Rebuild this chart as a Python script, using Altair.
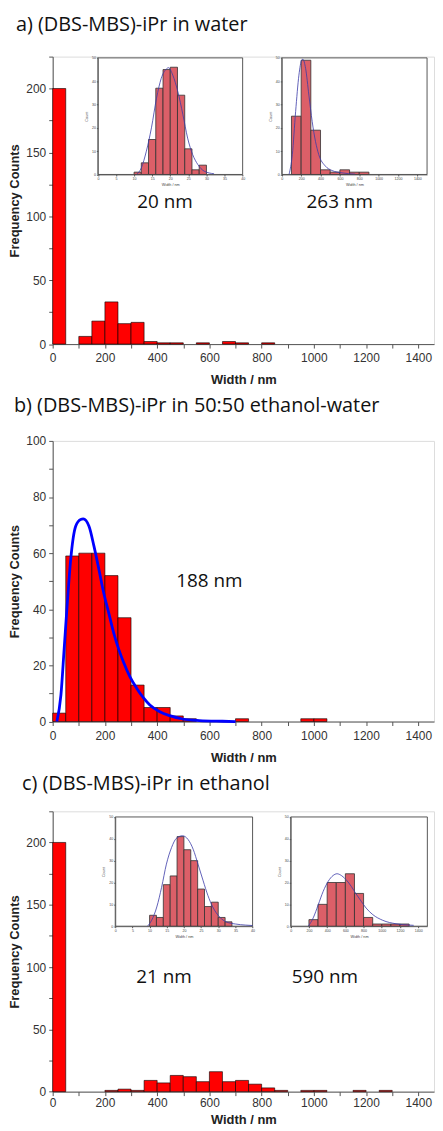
import altair as alt
import pandas as pd

# ---------------- data ----------------
MAIN_BIN = 50
# panel a: main histogram
a_start = [0, 100, 150, 200, 250, 300, 350, 400, 450, 550, 650, 700, 800]
a_count = [200, 6, 18, 33, 16, 17, 2, 1, 1, 1, 2, 1, 1]
# panel a inset 1 (bin 2 nm)
a1_start = [10, 12, 14, 16, 18, 20, 22, 24, 26, 28]
a1_count = [1, 5, 15, 37, 45, 46, 34, 11, 2, 4]
a1_fit_x = [10.7, 12, 13.4, 14.8, 16.2, 17.5, 18.9, 19.5, 20.7, 22.1, 23.5, 24.8, 26.2, 27.6, 29.4, 32.1]
a1_fit_y = [0, 2.8, 10, 20, 32.7, 41.2, 45.2, 45.8, 42.6, 35.5, 25.6, 15.6, 8.5, 4.3, 1.4, 0.3]
# panel a inset 2 (bin 100 nm)
a2_start = [100, 200, 300, 400, 500, 600, 700, 800]
a2_count = [25, 49, 19, 2, 1, 2, 1, 1]
a2_fit_x = [75, 109, 143, 177, 205, 218, 246, 280, 314, 348, 382, 450, 519, 621, 758]
a2_fit_y = [0, 8.5, 27, 42.6, 49, 49.4, 45.5, 34, 22.7, 14.2, 8.5, 3.6, 1.7, 0.7, 0.15]

# panel b
b_start = [0, 50, 100, 150, 200, 250, 300, 350, 400, 450, 500, 700, 950, 1000]
b_count = [3, 59, 60, 60, 52, 37, 13, 5, 5, 2, 1, 1, 1, 1]
b_fit_x = [16, 31.5, 44, 57, 69, 88, 107, 117, 139, 158, 177, 195, 214, 233, 252, 271,
           296, 322, 347, 372, 410, 448, 498, 561, 650, 700]
b_fit_y = [0, 9.4, 26, 43.6, 57.8, 69.6, 72, 72.2, 69.6, 62.5, 54.2, 46, 38.9, 31.8, 26, 21.2,
           15.9, 11.8, 8.5, 5.9, 3.5, 2.1, 0.9, 0.35, 0.1, 0]

# panel c
c_start = [0, 200, 250, 300, 350, 400, 450, 500, 550, 600, 650, 700, 750, 800, 850, 950, 1000, 1150, 1250]
c_count = [200, 1, 2, 1, 9, 7, 13, 12, 8, 16, 8, 9, 6, 3, 1, 1, 1, 1, 1]
c1_start = [10, 12, 14, 16, 18, 20, 22, 24, 26, 28, 30, 32]
c1_count = [5, 4, 19, 23, 41, 35, 30, 17, 9, 11, 4, 2]
c1_fit_x = [9.4, 10.6, 12.1, 13.5, 14.9, 16.4, 17.8, 19.6, 21.2, 22.7, 24.1, 25.6, 27, 28.4, 30.4, 32.3, 35, 38, 40]
c1_fit_y = [0, 2.7, 8.8, 17.8, 28.4, 36, 40.2, 41.4, 39.7, 35.2, 28.4, 20.8, 14, 8.8, 4.2, 2, 1, 0.5, 0.3]
c2_start = [200, 300, 400, 500, 600, 700, 800, 900, 1000, 1100, 1200]
c2_count = [3, 10, 20, 20, 24, 15, 4, 1, 1, 1, 1]
c2_fit_x = [193, 247, 302, 356, 411, 465, 509, 556, 610, 665, 719, 774, 828, 901, 1010, 1156, 1301, 1350]
c2_fit_y = [0, 3.8, 9.8, 15.9, 20.5, 23.2, 24, 23.2, 21.2, 18.2, 14.7, 11.4, 8.3, 5.3, 2.7, 1.1, 0.5, 0.4]

titles = ["a) (DBS-MBS)-iPr in water",
          "b) (DBS-MBS)-iPr in 50:50 ethanol-water",
          "c) (DBS-MBS)-iPr in ethanol"]
# annotation labels: text, x (nm), y (counts) in main-axis units
a_lab = (["20 nm", "263 nm"], [430, 1099], [111, 111])
b_lab = (["188 nm"], [600], [50])
c_lab = (["21 nm", "590 nm"], [426, 1042], [92, 92])

# ---------------- styling ----------------
AXF = "Liberation Sans"
TXF = "Open Sans"
W = 384
XMAX = 1460


def hist_df(start, count, bw):
    return pd.DataFrame({"start": start, "end": [s + bw for s in start], "count": count})


def main_layer(start, count, ymax, ystep, ylab, H, labels, fit=None, lpad=5, tpad=10):
    xs = alt.Scale(domain=[0, XMAX], nice=False, zero=False)
    ys = alt.Scale(domain=[0, ymax], nice=False, zero=False)
    xax = alt.Axis(values=list(range(0, 1401, 100)), format="d",
                   labelExpr="datum.value % 200 == 0 ? datum.label : ''",
                   title="Width / nm", titleFontSize=13, titleFont=AXF, titleFontWeight="bold",
                   titleColor="#222", titlePadding=tpad, labelFont=AXF, labelFontSize=12,
                   labelColor="#333", labelPadding=lpad, tickSize=4, tickColor="#555",
                   domainColor="#555", grid=False, labelFlush=False, labelOverlap=False)
    yax = alt.Axis(values=list(range(0, ymax + 1, ystep)), format="d",
                   labelExpr="datum.value %% %d == 0 ? datum.label : ''" % ylab,
                   title="Frequency Counts", titleFontSize=13, titleFont=AXF, titleFontWeight="bold",
                   titleColor="#222", titlePadding=4, labelFont=AXF, labelFontSize=12,
                   labelColor="#333", labelPadding=3, tickSize=4, tickColor="#555",
                   domainColor="#555", grid=False, labelOverlap=False)
    bars = alt.Chart(hist_df(start, count, MAIN_BIN)).mark_rect(
        fill="#FF0000", stroke="#000000", strokeWidth=0.6).encode(
        x=alt.X("start:Q", scale=xs, axis=xax), x2="end:Q",
        y=alt.Y("count:Q", scale=ys, axis=yax), y2=alt.datum(0))
    layers = [bars]
    if fit is not None:
        fdf = pd.DataFrame({"x": fit[0], "y": fit[1]})
        layers.append(alt.Chart(fdf).mark_line(color="#0000FF", strokeWidth=2.8,
                                               interpolate="monotone").encode(
            x=alt.X("x:Q", scale=xs, axis=xax), y=alt.Y("y:Q", scale=ys, axis=yax)))
    ldf = pd.DataFrame({"t": labels[0], "x": labels[1], "y": labels[2]})
    layers.append(alt.Chart(ldf).mark_text(font=TXF, fontSize=19, color="#111").encode(
        x=alt.X("x:Q", scale=xs, axis=xax), y=alt.Y("y:Q", scale=ys, axis=yax), text="t:N"))
    return alt.layer(*layers)


def inset(start, count, bw, fit_x, fit_y, xdom, xstep, ydom, ystep, xr, yr, H):
    xs = alt.Scale(domain=xdom, range=xr, nice=False, zero=False)
    ys = alt.Scale(domain=ydom, range=yr, nice=False, zero=False)
    common = dict(labelFont=AXF, labelFontSize=3.6, labelColor="#444", tickSize=1.5,
                  tickColor="#555", domainColor="#555", domainWidth=0.8, titleFont=AXF,
                  titleFontSize=3.8, titleFontWeight="normal", titleColor="#444", grid=False,
                  labelFlush=False, labelOverlap=False, zindex=2, format="d")
    xax = alt.Axis(orient="bottom", offset=yr[0] - H,
                   values=list(range(xdom[0], xdom[1] + 1, xstep)),
                   labelPadding=1, title="Width / nm", titlePadding=2, **common)
    yax = alt.Axis(orient="left", offset=-xr[0],
                   values=list(range(ydom[0], ydom[1] + 1, ystep)),
                   labelPadding=1, title="Count", titlePadding=3, **common)
    fr = pd.DataFrame({"x": [xdom[0]], "x2": [xdom[1]], "y": [ydom[0]], "y2": [ydom[1]]})
    frame = alt.Chart(fr).mark_rect(fill="white", stroke="#444", strokeWidth=0.9).encode(
        x=alt.X("x:Q", scale=xs, axis=xax), x2="x2:Q",
        y=alt.Y("y:Q", scale=ys, axis=yax), y2="y2:Q")
    bars = alt.Chart(hist_df(start, count, bw)).mark_rect(
        fill="#DC5F68", stroke="#333", strokeWidth=0.8).encode(
        x=alt.X("start:Q", scale=xs, axis=xax), x2="end:Q",
        y=alt.Y("count:Q", scale=ys, axis=yax), y2=alt.datum(0))
    fdf = pd.DataFrame({"x": fit_x, "y": fit_y})
    fit = alt.Chart(fdf).mark_line(color="#3A3AA8", strokeWidth=0.8, interpolate="monotone").encode(
        x=alt.X("x:Q", scale=xs, axis=xax), y=alt.Y("y:Q", scale=ys, axis=yax))
    return alt.layer(frame, bars, fit)


def panel(layers, H, title, dx, toff):
    return alt.layer(*layers).resolve_scale(x="independent", y="independent").properties(
        width=W, height=H,
        title=alt.TitleParams(text=title, anchor="start", frame="bounds", dx=dx, offset=toff,
                              font=TXF, fontSize=20, fontWeight="normal", color="#111"))


HA = 289.5
pa = panel([
    main_layer(a_start, a_count, 225, 25, 50, HA, a_lab),
    inset(a1_start, a1_count, 2, a1_fit_x, a1_fit_y, [0, 40], 5, [0, 50], 10,
          [45.5, 191.3], [118.7, 1.3], HA),
    inset(a2_start, a2_count, 100, a2_fit_x, a2_fit_y, [0, 1500], 200, [0, 50], 10,
          [230.7, 377.0], [118.7, 1.3], HA),
], HA, titles[0], 7, 16)

HB = 282.6
pb = panel([
    main_layer(b_start, b_count, 100, 10, 20, HB, b_lab, fit=(b_fit_x, b_fit_y)),
], HB, titles[1], 5, 19.5)

HC = 282.3
pc = panel([
    main_layer(c_start, c_count, 225, 25, 50, HC, c_lab, lpad=2, tpad=5),
    inset(c1_start, c1_count, 2, c1_fit_x, c1_fit_y, [0, 40], 5, [0, 50], 10,
          [63.0, 201.3], [115.7, 5.7], HC),
    inset(c2_start, c2_count, 100, c2_fit_x, c2_fit_y, [0, 1500], 200, [0, 50], 10,
          [239.7, 377.3], [115.7, 5.7], HC),
], HC, titles[2], 13, 11)

chart = alt.vconcat(pa, pb, pc, spacing=8).properties(
    padding={"left": 0, "top": 2, "right": 0, "bottom": 0}
).configure_view(strokeWidth=0).configure(background="white")

chart.save("out.html", embed_options={"renderer": "svg", "actions": False})
